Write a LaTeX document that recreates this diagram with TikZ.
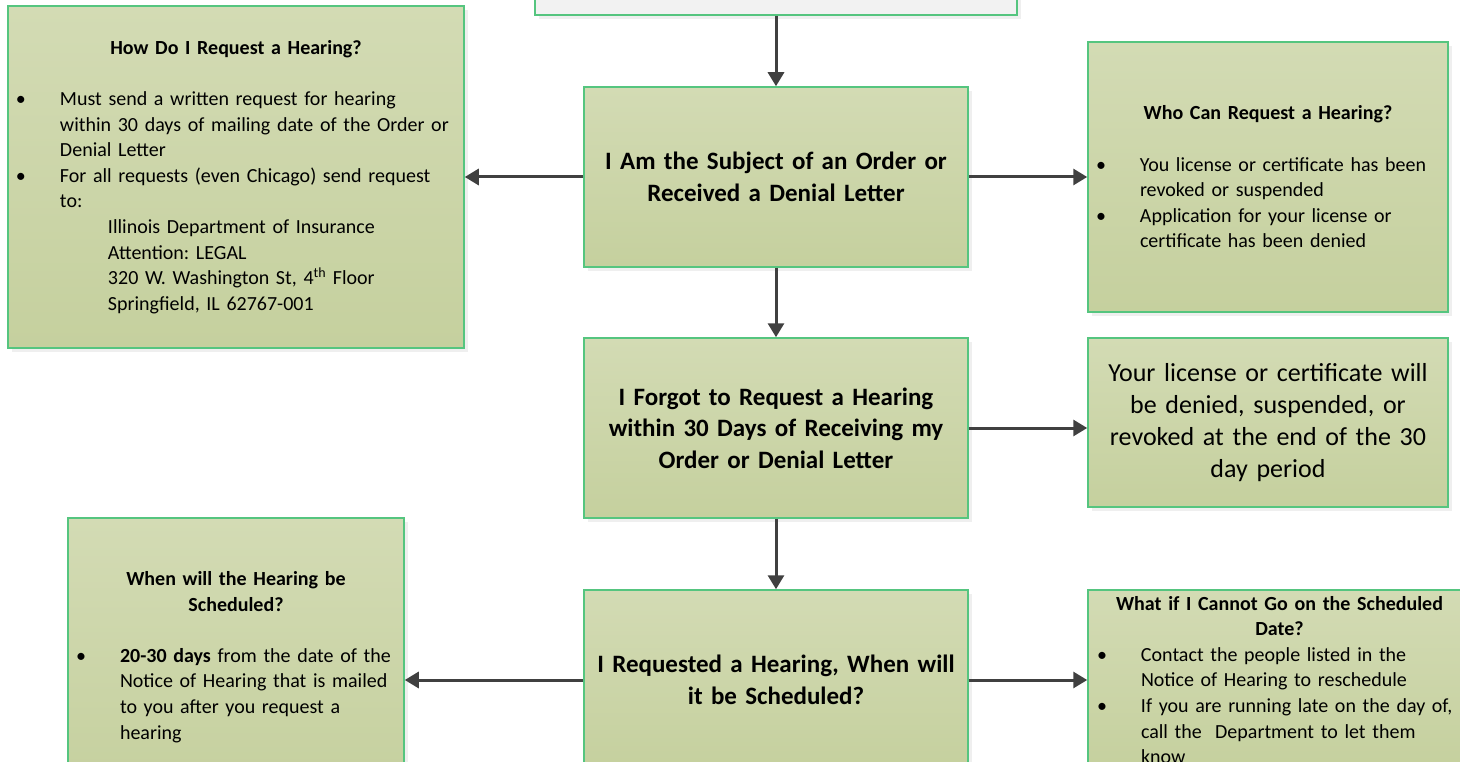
\documentclass[tikz,border=0pt]{standalone}
\usepackage{fontspec}
\setmainfont{Carlito}
\usetikzlibrary{arrows.meta,shadows}
\frenchspacing
\definecolor{boxtop}{RGB}{211,219,180}
\definecolor{boxbot}{RGB}{197,208,158}
\definecolor{boxline}{RGB}{85,197,127}
\definecolor{linkgray}{RGB}{64,64,64}
\tikzstyle{box}=[rectangle, draw=boxline, line width=1.5pt, top color=boxtop, bottom color=boxbot, drop shadow={shadow xshift=4pt, shadow yshift=-4pt, fill=black!12}, inner sep=0pt]
\tikzstyle{topbox}=[box, top color=black!5, bottom color=black!5, minimum width=482pt, minimum height=60pt]
\tikzstyle{mainbox}=[box, minimum width=384pt, minimum height=180pt, text width=370pt, align=center, font=\fontsize{25}{31.5}\selectfont\bfseries]
\tikzstyle{sidebox}=[box, align=left, font=\fontsize{20}{25.6}\selectfont]
\tikzstyle{link}=[-{Triangle[length=14pt,width=16pt]}, line width=3pt, draw=linkgray]
\newcommand{\mainbox}{\node[mainbox]}
\newcommand{\sidebox}{\node[sidebox]}
\newcommand{\boxhead}[1]{{\centering\bfseries #1\par}}
\newcommand{\bitem}[1]{\par{\leftskip=44pt\noindent\llap{\makebox[44pt][l]{\textbullet}}#1\par}}
\newcommand{\addr}{\\\hspace*{48pt}}

\begin{document}
\begin{tikzpicture}[x=1pt, y=-1pt]
\useasboundingbox (0,0) rectangle (1460,762);
\clip (0,0) rectangle (1460,762);
%main column
\node[topbox] (top) at (776,-15){};
\mainbox (subject) at (776,177){I Am the Subject of an Order or\\Received a Denial Letter};
\mainbox (forgot) at (776,428){I Forgot to Request a Hearing\\within 30 Days of Receiving my\\Order or Denial Letter};
\mainbox (requested) at (776,680){I Requested a Hearing, When will\\it be Scheduled?};
%left side
\sidebox[minimum width=456pt, minimum height=342pt, text width=440pt] (how) at (236,177){%
	\boxhead{How Do I Request a Hearing?}
	\vspace{\baselineskip}
	\bitem{Must send a written request for hearing\\within 30 days of mailing date of the Order or\\Denial Letter}
	\bitem{For all requests (even Chicago) send request\\to:\addr Illinois Department of Insurance\addr Attention: LEGAL\addr 320 W. Washington St, 4\textsuperscript{th} Floor\addr Springfield, IL 62767-001}};
\sidebox[minimum width=336pt, minimum height=278pt, text width=320pt] (when) at (236,657){%
	\boxhead{When will the Hearing be\\Scheduled?}
	\vspace{\baselineskip}
	\bitem{\textbf{20-30 days} from the date of the\\Notice of Hearing that is mailed\\to you after you request a\\hearing}};
%right side
\sidebox[minimum width=360pt, minimum height=270pt, text width=344pt] (who) at (1268,177){%
	\boxhead{Who Can Request a Hearing?}
	\vspace{\baselineskip}
	\bitem{You license or certificate has been\\revoked or suspended}
	\bitem{Application for your license or\\certificate has been denied}};
\sidebox[minimum width=360pt, minimum height=169pt, text width=344pt, align=center, font=\fontsize{26}{32}\selectfont] (result) at (1268,422.5){Your license or certificate will\\be denied, suspended, or\\revoked at the end of the 30\\day period};
\sidebox[minimum width=383pt, minimum height=180pt, text width=365pt] (cannot) at (1279.5,680){%
	\boxhead{What if I Cannot Go on the Scheduled\\Date?}
	\bitem{Contact the people listed in the\\Notice of Hearing to reschedule}
	\bitem{If you are running late on the day of,\\call the\ \ Department to let them\\know}};
%arrows
\draw[link] (top.south) -- (subject.north);
\draw[link] (subject.south) -- (forgot.north);
\draw[link] (forgot.south) -- (requested.north);
\draw[link] (subject.west) -- (subject.west -| how.east);
\draw[link] (subject.east) -- (subject.east -| who.west);
\draw[link] (forgot.east) -- (forgot.east -| result.west);
\draw[link] (requested.west) -- (requested.west -| when.east);
\draw[link] (requested.east) -- (requested.east -| cannot.west);
\end{tikzpicture}
\end{document}
